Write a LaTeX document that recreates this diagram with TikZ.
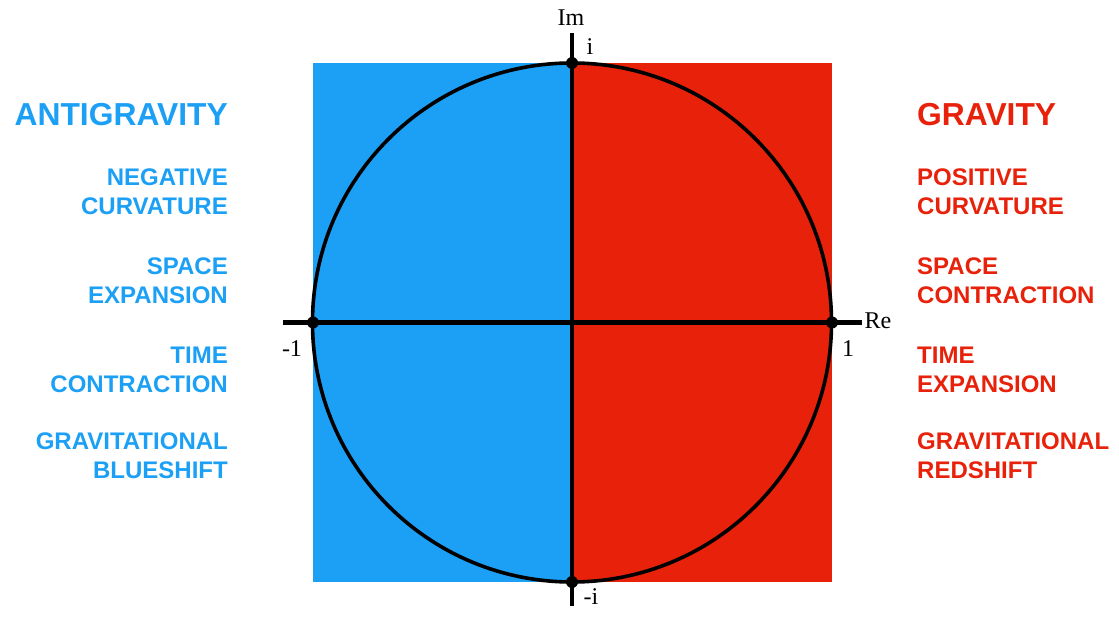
\documentclass[tikz,border=0pt]{standalone}
\usepackage{fontspec}
\newfontfamily\labfont{Liberation Sans}
\newfontfamily\axfont{Liberation Serif}
\definecolor{agblue}{RGB}{28,160,245}
\definecolor{gred}{RGB}{232,33,10}
\begin{document}
\begin{tikzpicture}[x=1pt,y=-1pt,
  bigtitle/.style={font=\labfont\bfseries\fontsize{31.8}{36}\selectfont, inner sep=0pt},
  prop/.style={font=\labfont\bfseries\fontsize{24}{29}\selectfont, inner sep=0pt},
  leftlab/.style={text=agblue, anchor=east, align=right},
  rightlab/.style={text=gred, anchor=west, align=left},
  axislab/.style={font=\axfont\fontsize{24}{26}\selectfont, inner sep=0pt},
  axisline/.style={line width=4pt},
  ptdot/.style={circle, fill=black, minimum size=12pt, inner sep=0pt}]
\useasboundingbox (0,0) rectangle (1119,620);
% half squares
\fill[agblue] (313,63) rectangle (572,582);
\fill[gred] (572,63) rectangle (832,582);
% unit circle
\draw[line width=3.6pt] (572,322.5) circle (259.5);
% axes
\coordinate (xl) at (283,322.5);
\coordinate (xr) at (862,322.5);
\coordinate (yt) at (572,33);
\coordinate (yb) at (572,606);
\draw[axisline] (xl) -- (xr);
\draw[axisline] (yt) -- (yb);
% points
\node[ptdot] (pi) at (572,63) {};
\node[ptdot] (pmi) at (572,582) {};
\node[ptdot] (pm1) at (313,322.5) {};
\node[ptdot] (p1) at (832,322.5) {};
% axis labels
\node[axislab] (im) at (571,18) {Im};
\node[axislab] (ilab) at (590,47) {i};
\node[axislab] (re) at (878,321) {Re};
\node[axislab] (one) at (848,349) {1};
\node[axislab] (mone) at (292,349) {-1};
\node[axislab] (mi) at (591,597) {-i};
% left texts
\node[bigtitle,leftlab] (ag) at (228,115) {ANTIGRAVITY};
\node[prop,leftlab] (l1) at (228,192) {NEGATIVE\\CURVATURE};
\node[prop,leftlab] (l2) at (228,281) {SPACE\\EXPANSION};
\node[prop,leftlab] (l3) at (228,370) {TIME\\CONTRACTION};
\node[prop,leftlab] (l4) at (228,456) {GRAVITATIONAL\\BLUESHIFT};
% right texts
\node[bigtitle,rightlab] (g) at (917,115) {GRAVITY};
\node[prop,rightlab] (r1) at (917,192) {POSITIVE\\CURVATURE};
\node[prop,rightlab] (r2) at (917,281) {SPACE\\CONTRACTION};
\node[prop,rightlab] (r3) at (917,370) {TIME\\EXPANSION};
\node[prop,rightlab] (r4) at (917,456) {GRAVITATIONAL\\REDSHIFT};
\end{tikzpicture}
\end{document}
